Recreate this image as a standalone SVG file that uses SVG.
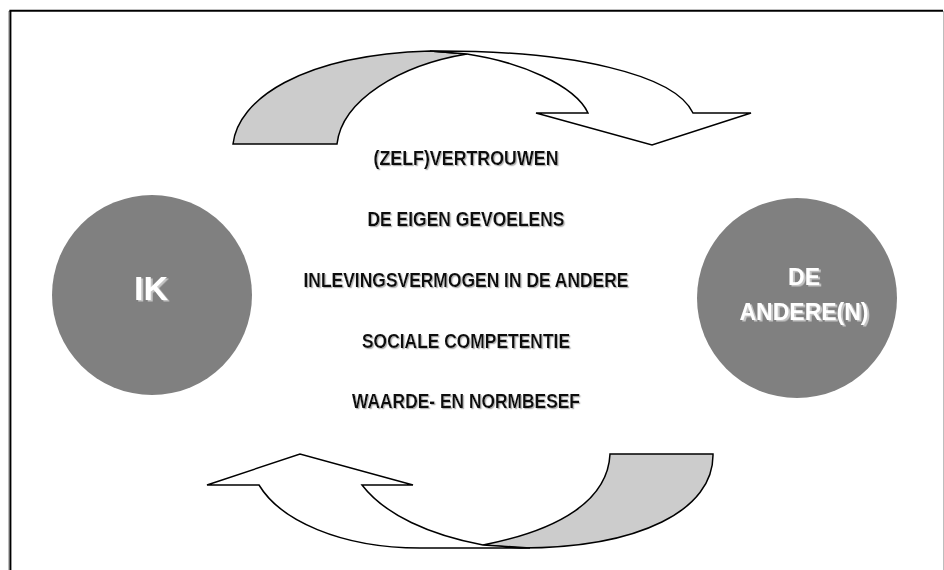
<svg xmlns="http://www.w3.org/2000/svg" width="944" height="570" viewBox="0 0 944 570">
  <defs>
    <style>
      .frame-dark { stroke: #000; stroke-width: 2; fill: none; }
      .frame-light { stroke: #bdbdbd; stroke-width: 1; fill: none; }
      .ribbon-back { fill: #cccccc; stroke: #000; stroke-width: 1.5; stroke-linejoin: miter; }
      .ribbon-front { fill: #ffffff; stroke: #000; stroke-width: 1.5; stroke-linejoin: miter; }
      .disc { fill: #808080; }
      .disc-label { font-family: "Liberation Sans", Arial, sans-serif; font-weight: bold; fill: #ffffff; text-anchor: middle; filter: url(#emboss); }
      .item { font-family: "Liberation Sans", Arial, sans-serif; font-weight: bold; font-size: 21px; fill: #111; text-anchor: middle; filter: url(#soft-shadow); }
    </style>
    <filter id="soft-shadow" x="-5%" y="-30%" width="110%" height="160%">
      <feDropShadow dx="1.2" dy="1.2" stdDeviation="0.3" flood-color="#b4b4b4" flood-opacity="1"/>
    </filter>
    <filter id="emboss" x="-10%" y="-30%" width="120%" height="160%">
      <feDropShadow dx="2" dy="1.5" stdDeviation="0.4" flood-color="#c4c4c4" flood-opacity="1"/>
    </filter>
  </defs>

  <rect x="0" y="0" width="944" height="570" fill="#ffffff"/>

  <!-- page frame -->
  <g id="frame">
    <line class="frame-light" x1="8.5" y1="11" x2="8.5" y2="570"/>
    <line class="frame-dark" x1="10.4" y1="10.8" x2="10.4" y2="570"/>
    <line class="frame-dark" x1="9.4" y1="10.8" x2="943" y2="10.8"/>
    <line class="frame-light" x1="943.5" y1="11" x2="943.5" y2="570"/>
  </g>

  <!-- curved arrows between the two discs -->
  <g id="connectors">
    <g id="arrow-top">
      <path class="ribbon-back" d="M 233,144 L 337,144 C 342,100 400,65 467,54 L 430,51 C 300,55 238,100 233,144 Z"/>
      <path class="ribbon-front" d="M 430,51 C 575,50 675,75 693,113 L 751,113 L 652,145 L 536,113 L 588,113 C 575,85 520,62 467,54 Z"/>
    </g>
    <g id="arrow-bottom">
      <path class="ribbon-back" d="M 610,454 L 713,454 C 714,510 640,548 520,548 L 483,545 C 560,530 608,500 610,454 Z"/>
      <path class="ribbon-front" d="M 530,548 L 420,548 C 340,548 280,520 259,485 L 207,485 L 300,454 L 413,485 L 362,485 C 385,515 430,535 483,545 Z"/>
    </g>
  </g>

  <g id="node-ik">
    <circle class="disc" cx="152" cy="295" r="100"/>
    <text class="disc-label" x="151" y="300" font-size="34">IK</text>
  </g>

  <g id="node-de-andere">
    <circle class="disc" cx="797" cy="298" r="100"/>
    <text class="disc-label" x="804" y="285" font-size="23">DE</text>
    <text class="disc-label" x="804" y="320" font-size="23">ANDERE(N)</text>
  </g>

  <g id="themes">
    <text class="item" x="466" y="165" textLength="185" lengthAdjust="spacingAndGlyphs">(ZELF)VERTROUWEN</text>
    <text class="item" x="466" y="226" textLength="197" lengthAdjust="spacingAndGlyphs">DE EIGEN GEVOELENS</text>
    <text class="item" x="466" y="287" textLength="325" lengthAdjust="spacingAndGlyphs">INLEVINGSVERMOGEN IN DE ANDERE</text>
    <text class="item" x="466" y="348" textLength="208" lengthAdjust="spacingAndGlyphs">SOCIALE COMPETENTIE</text>
    <text class="item" x="466" y="408" textLength="228" lengthAdjust="spacingAndGlyphs">WAARDE- EN NORMBESEF</text>
  </g>
</svg>
